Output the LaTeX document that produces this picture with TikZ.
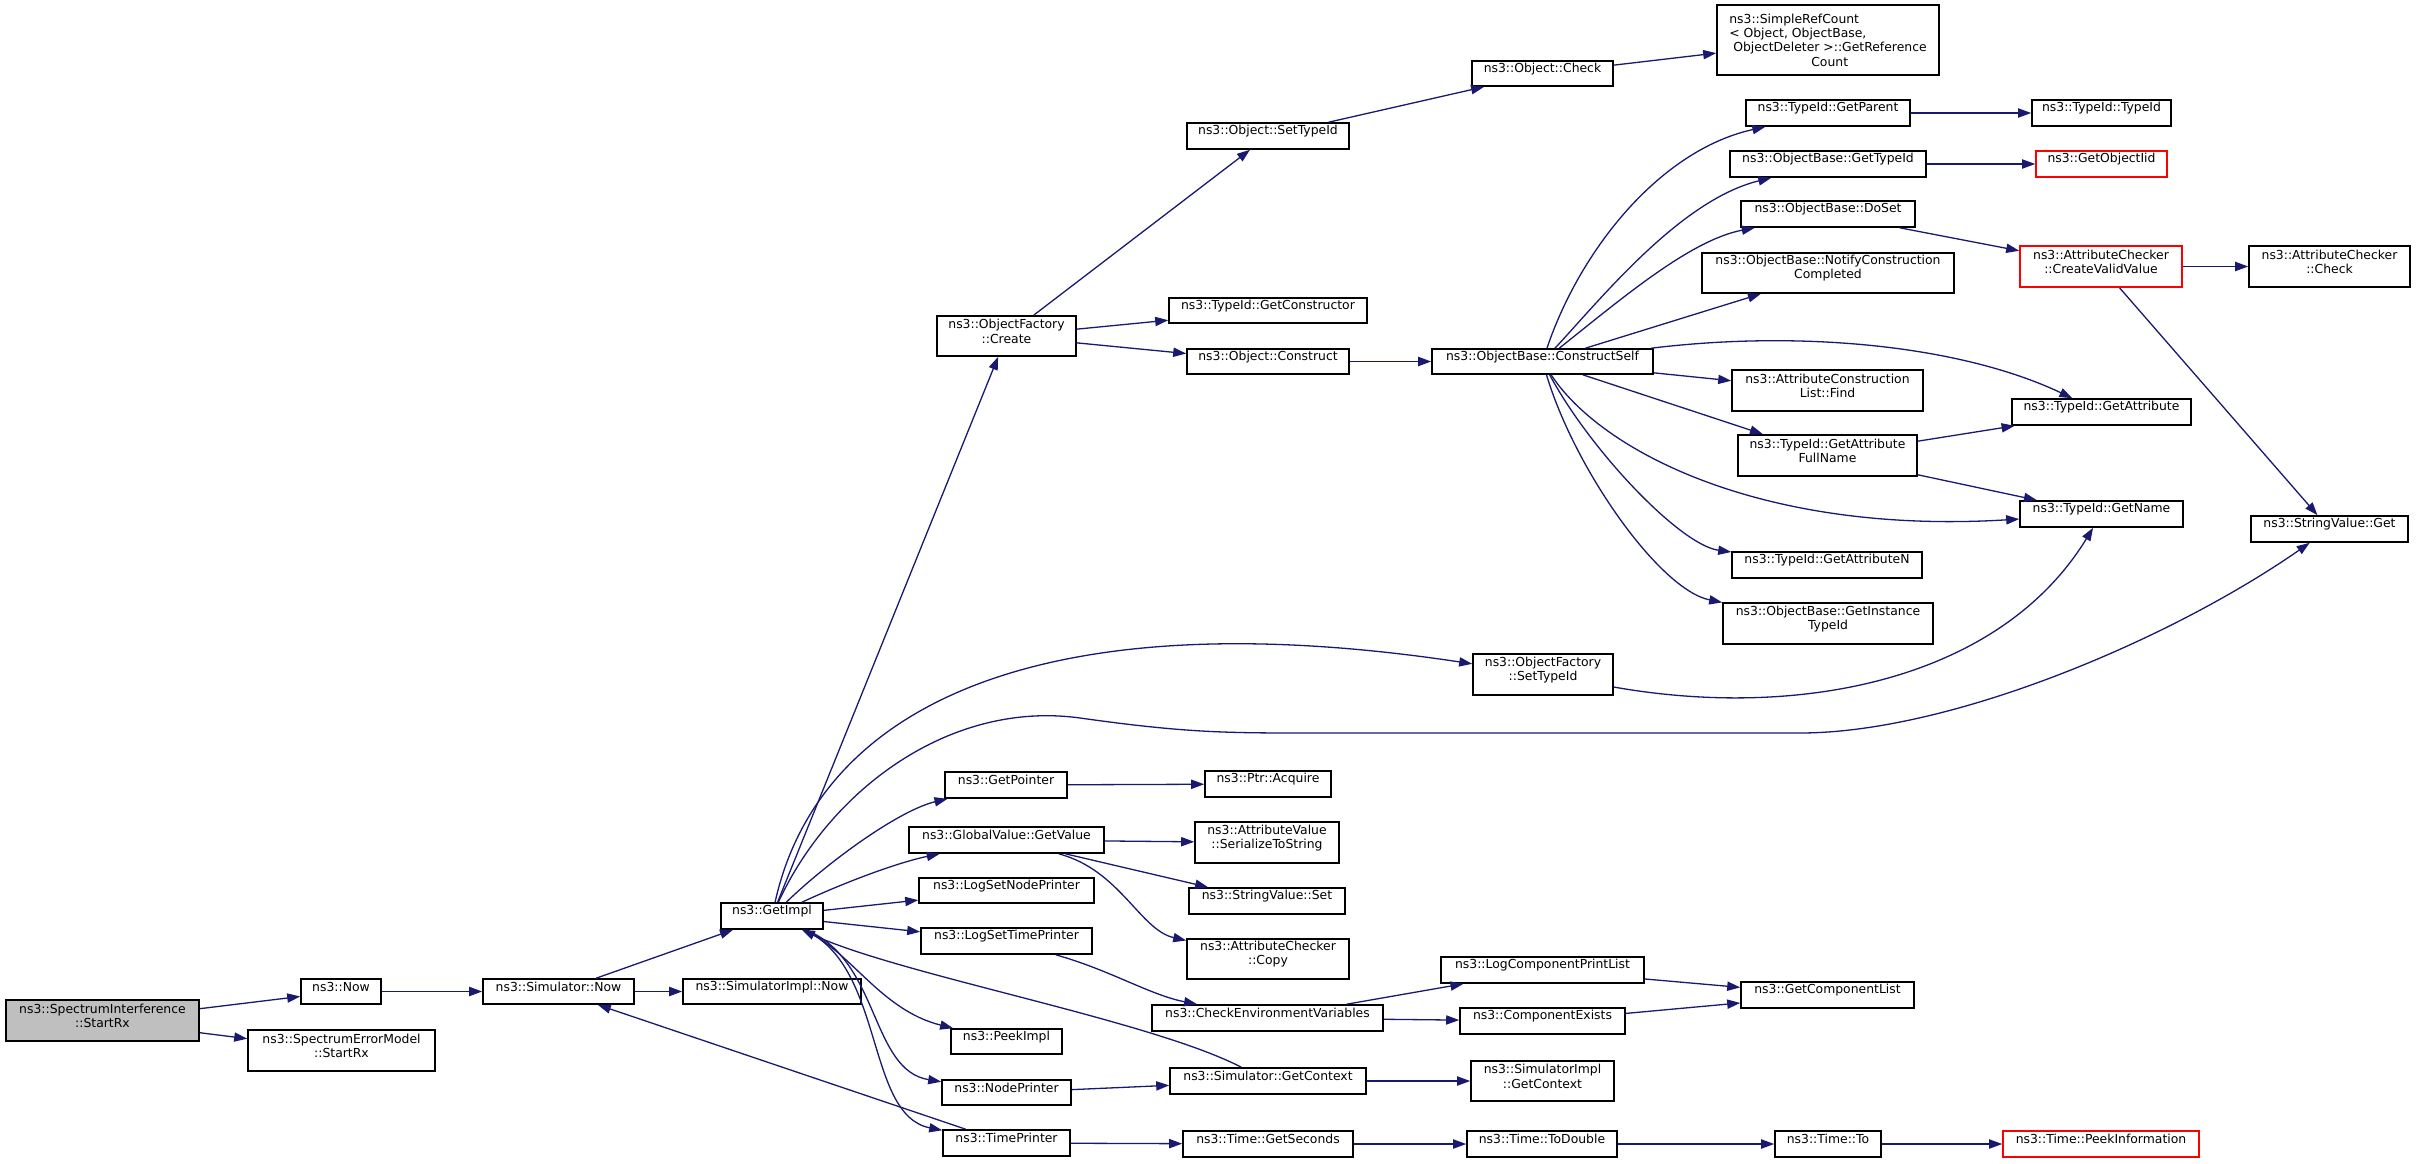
\documentclass[tikz,border=0pt]{standalone}
\usepackage{fontspec}
\setmainfont{DejaVu Sans}
\usetikzlibrary{fit,arrows.meta}
\definecolor{edgeblue}{HTML}{191970}
\definecolor{startgray}{HTML}{BFBFBF}
\tikzset{
  boxfont/.style={font=\fontsize{6.2}{7.2}\selectfont},
  box/.style={draw=black, line width=0.8pt, fill=white, inner sep=0pt, align=center, boxfont},
  redbox/.style={box, draw=red},
  graybox/.style={box, fill=startgray},
  arr/.style={draw=edgeblue, line width=0.65pt, -{Triangle[length=6.5pt,width=4.6pt]}}
}
\begin{document}
\begin{tikzpicture}[x=0.5pt,y=-0.5pt]
\useasboundingbox (0,0) rectangle (2416,1163);
\fill[white] (0,0) rectangle (2416,1163);
% nodes
\node[graybox, fit={(6,1000) (199,1041)}] (StartRx) {ns3::SpectrumInterference\\::StartRx};
\node[box, fit={(301,979) (381,1004)}] (Now) {ns3::Now};
\node[box, fit={(248,1030) (435,1071)}] (SEMStartRx) {ns3::SpectrumErrorModel\\::StartRx};
\node[box, fit={(483,979) (634,1004)}] (SimNow) {ns3::Simulator::Now};
\node[box, fit={(683,979) (861,1004)}] (SimImplNow) {ns3::SimulatorImpl::Now};
\node[box, fit={(721,903) (823,929)}] (GetImpl) {ns3::GetImpl};
\node[box, fit={(937,316) (1076,356)}] (OFCreate) {ns3::ObjectFactory\\::Create};
\node[box, fit={(1187,123) (1349,149)}] (ObjSetTypeId) {ns3::Object::SetTypeId};
\node[box, fit={(1472,61) (1613,86)}] (ObjCheck) {ns3::Object::Check};
\node[box, fit={(1717,5) (1939,75)}] (SimpleRef) {};
\node[boxfont, align=left, inner sep=0pt] (SimpleRefText) at (SimpleRef.center) {ns3::SimpleRefCount\\{<} Object, ObjectBase,\\\hspace*{2pt}ObjectDeleter {>}::GetReference\\\hspace*{41pt}Count};
\node[box, fit={(1169,298) (1367,323)}] (GetConstructor) {ns3::TypeId::GetConstructor};
\node[box, fit={(1187,349) (1349,374)}] (ObjConstruct) {ns3::Object::Construct};
\node[box, fit={(1432,349) (1653,374)}] (ConstructSelf) {ns3::ObjectBase::ConstructSelf};
\node[box, fit={(1746,100) (1910,126)}] (GetParent) {ns3::TypeId::GetParent};
\node[box, fit={(2032,100) (2171,126)}] (TypeIdTypeId) {ns3::TypeId::TypeId};
\node[box, fit={(1730,151) (1926,177)}] (OBGetTypeId) {ns3::ObjectBase::GetTypeId};
\node[redbox, fit={(2036,151) (2167,177)}] (GetObjectIid) {ns3::GetObjectIid};
\node[box, fit={(1741,201) (1915,227)}] (DoSet) {ns3::ObjectBase::DoSet};
\node[box, fit={(1702,253) (1954,293)}] (Notify) {ns3::ObjectBase::NotifyConstruction\\Completed};
\node[redbox, fit={(2020,246) (2182,287)}] (CreateValid) {ns3::AttributeChecker\\::CreateValidValue};
\node[box, fit={(2249,246) (2410,287)}] (ACCheck) {ns3::AttributeChecker\\::Check};
\node[box, fit={(1732,370) (1923,411)}] (ACLFind) {ns3::AttributeConstruction\\List::Find};
\node[box, fit={(2012,399) (2191,425)}] (GetAttribute) {ns3::TypeId::GetAttribute};
\node[box, fit={(1738,435) (1917,476)}] (GetAttrFullName) {ns3::TypeId::GetAttribute\\FullName};
\node[box, fit={(2020,501) (2183,527)}] (GetName) {ns3::TypeId::GetName};
\node[box, fit={(2251,516) (2408,542)}] (SVGet) {ns3::StringValue::Get};
\node[box, fit={(1732,552) (1922,578)}] (GetAttrN) {ns3::TypeId::GetAttributeN};
\node[box, fit={(1723,603) (1933,644)}] (GetInstTypeId) {ns3::ObjectBase::GetInstance\\TypeId};
\node[box, fit={(1473,654) (1613,695)}] (OFSetTypeId) {ns3::ObjectFactory\\::SetTypeId};
\node[box, fit={(945,772) (1067,798)}] (GetPointer) {ns3::GetPointer};
\node[box, fit={(1205,771) (1331,797)}] (PtrAcquire) {ns3::Ptr::Acquire};
\node[box, fit={(909,827) (1104,853)}] (GVGetValue) {ns3::GlobalValue::GetValue};
\node[box, fit={(1195,822) (1339,863)}] (SerToStr) {ns3::AttributeValue\\::SerializeToString};
\node[box, fit={(919,878) (1094,903)}] (LogSetNode) {ns3::LogSetNodePrinter};
\node[box, fit={(1189,888) (1345,914)}] (SVSet) {ns3::StringValue::Set};
\node[box, fit={(921,928) (1092,954)}] (LogSetTime) {ns3::LogSetTimePrinter};
\node[box, fit={(1187,939) (1349,979)}] (ACCopy) {ns3::AttributeChecker\\::Copy};
\node[box, fit={(1152,1005) (1383,1031)}] (CheckEnv) {ns3::CheckEnvironmentVariables};
\node[box, fit={(1441,957) (1644,983)}] (LogCompPrint) {ns3::LogComponentPrintList};
\node[box, fit={(1460,1008) (1625,1034)}] (CompExists) {ns3::ComponentExists};
\node[box, fit={(1741,982) (1914,1008)}] (GetCompList) {ns3::GetComponentList};
\node[box, fit={(951,1029) (1062,1054)}] (PeekImpl) {ns3::PeekImpl};
\node[box, fit={(942,1080) (1071,1105)}] (NodePrinter) {ns3::NodePrinter};
\node[box, fit={(1170,1068) (1366,1094)}] (SimGetContext) {ns3::Simulator::GetContext};
\node[box, fit={(1471,1061) (1614,1101)}] (SimImplGetContext) {ns3::SimulatorImpl\\::GetContext};
\node[box, fit={(943,1130) (1070,1156)}] (TimePrinter) {ns3::TimePrinter};
\node[box, fit={(1183,1131) (1353,1157)}] (GetSeconds) {ns3::Time::GetSeconds};
\node[box, fit={(1467,1131) (1617,1157)}] (ToDouble) {ns3::Time::ToDouble};
\node[box, fit={(1775,1131) (1881,1157)}] (TimeTo) {ns3::Time::To};
\node[redbox, fit={(2003,1131) (2199,1157)}] (PeekInfo) {ns3::Time::PeekInformation};
% edges
\draw[arr] (StartRx) -- (Now);
\draw[arr] (StartRx) -- (SEMStartRx);
\draw[arr] (Now) -- (SimNow);
\draw[arr] (SimNow) -- (SimImplNow);
\draw[arr] (SimNow) -- (GetImpl);
\draw[arr] (GetImpl) -- (OFCreate);
\draw[arr] (GetImpl) .. controls (820,700) and (1050,600) .. (OFSetTypeId);
\draw[arr] (GetImpl) .. controls (830,790) and (950,700) .. (1080,718) .. controls (1180,732) and (1220,733) .. (1300,733) -- (1800,733) .. controls (1950,733) and (2170,640) .. (SVGet);
\draw[arr] (GetImpl) .. controls (830,860) and (900,810) .. (GetPointer);
\draw[arr] (GetImpl) .. controls (850,880) and (900,862) .. (GVGetValue);
\draw[arr] (GetImpl) -- (LogSetNode);
\draw[arr] (GetImpl) -- (LogSetTime);
\draw[arr] (GetImpl) .. controls (850,950) and (880,1010) .. (PeekImpl);
\draw[arr] (GetImpl) .. controls (880,960) and (870,1070) .. (NodePrinter);
\draw[arr] (GetImpl) .. controls (885,965) and (865,1115) .. (TimePrinter);
\draw[arr] (SimGetContext) .. controls (1150,1020) and (900,975) .. (GetImpl);
\draw[arr] (TimePrinter) -- (SimNow);
\draw[arr] (OFCreate) -- (ObjSetTypeId);
\draw[arr] (OFCreate) -- (GetConstructor);
\draw[arr] (OFCreate) -- (ObjConstruct);
\draw[arr] (ObjSetTypeId) -- (ObjCheck);
\draw[arr] (ObjCheck) -- (SimpleRef);
\draw[arr] (ObjConstruct) -- (ConstructSelf);
\draw[arr] (ConstructSelf) .. controls (1580,250) and (1660,150) .. (GetParent);
\draw[arr] (ConstructSelf) .. controls (1600,300) and (1680,200) .. (OBGetTypeId);
\draw[arr] (ConstructSelf) .. controls (1620,300) and (1690,240) .. (DoSet);
\draw[arr] (ConstructSelf) -- (Notify);
\draw[arr] (ConstructSelf) .. controls (1800,330) and (1960,345) .. (GetAttribute);
\draw[arr] (ConstructSelf) -- (ACLFind);
\draw[arr] (ConstructSelf) -- (GetAttrFullName);
\draw[arr] (ConstructSelf) .. controls (1600,450) and (1760,535) .. (GetName);
\draw[arr] (ConstructSelf) .. controls (1590,450) and (1680,545) .. (GetAttrN);
\draw[arr] (ConstructSelf) .. controls (1575,470) and (1660,590) .. (GetInstTypeId);
\draw[arr] (GetParent) -- (TypeIdTypeId);
\draw[arr] (OBGetTypeId) -- (GetObjectIid);
\draw[arr] (DoSet) -- (CreateValid);
\draw[arr] (CreateValid) -- (ACCheck);
\draw[arr] (CreateValid) -- (SVGet);
\draw[arr] (GetAttrFullName) -- (GetAttribute);
\draw[arr] (GetAttrFullName) -- (GetName);
\draw[arr] (OFSetTypeId) .. controls (1800,720) and (2000,680) .. (GetName);
\draw[arr] (GetPointer) -- (PtrAcquire);
\draw[arr] (GVGetValue) -- (SerToStr);
\draw[arr] (GVGetValue) -- (SVSet);
\draw[arr] (GVGetValue) .. controls (1120,870) and (1140,930) .. (ACCopy);
\draw[arr] (LogSetTime) .. controls (1110,970) and (1150,995) .. (CheckEnv);
\draw[arr] (CheckEnv) -- (LogCompPrint);
\draw[arr] (CheckEnv) -- (CompExists);
\draw[arr] (LogCompPrint) -- (GetCompList);
\draw[arr] (CompExists) -- (GetCompList);
\draw[arr] (NodePrinter) -- (SimGetContext);
\draw[arr] (SimGetContext) -- (SimImplGetContext);
\draw[arr] (TimePrinter) -- (GetSeconds);
\draw[arr] (GetSeconds) -- (ToDouble);
\draw[arr] (ToDouble) -- (TimeTo);
\draw[arr] (TimeTo) -- (PeekInfo);
\end{tikzpicture}
\end{document}
